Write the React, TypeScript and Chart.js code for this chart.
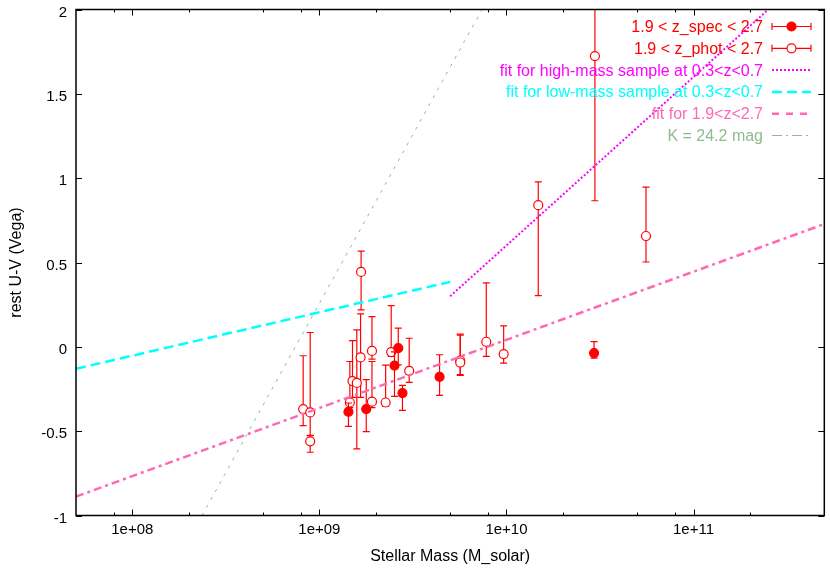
import React, { useEffect, useRef } from "react";
import { Chart, registerables } from "chart.js";

Chart.register(...registerables);

// ---------- data ----------
const specMass = [1.43e9, 1.78e9, 2.52e9, 2.64e9, 2.78e9, 4.39e9, 2.94e10];
const specUV = [-0.385, -0.369, -0.111, -0.008, -0.274, -0.178, -0.037];
const specUVHigh = [-0.333, -0.195, -0.03, 0.111, -0.229, -0.047, 0.031];
const specUVLow = [-0.472, -0.503, -0.294, -0.107, -0.377, -0.288, -0.067];

const photMass = [8.19e8, 8.93e8, 8.93e8, 1.455e9, 1.503e9, 1.585e9, 1.671e9, 1.66e9, 1.91e9, 1.91e9, 2.26e9, 2.42e9, 3.02e9, 5.66e9, 5.66e9, 7.8e9, 9.66e9, 1.479e10, 2.97e10, 5.57e10];
const photUV = [-0.369, -0.389, -0.56, -0.33, -0.203, -0.214, 0.444, -0.063, -0.024, -0.325, -0.33, -0.031, -0.142, -0.081, -0.093, 0.03, -0.043, 0.84, 1.724, 0.657];
const photUVHigh = [-0.053, 0.085, -0.527, -0.087, 0.037, 0.1, 0.568, 0.195, 0.179, -0.087, -0.108, 0.244, 0.051, 0.075, 0.07, 0.379, 0.124, 0.978, 2.3, 0.947];
const photUVLow = [-0.467, -0.525, -0.625, -0.36, -0.3, -0.605, 0.219, -0.3, -0.073, -0.361, -0.353, -0.057, -0.211, -0.17, -0.165, -0.057, -0.096, 0.304, 0.866, 0.503];

const highMassFitX = [5e9, 2.51e11];
const highMassFitY = [0.3, 2.0];
const lowMassFitX = [5e7, 5e9];
const lowMassFitY = [-0.13, 0.385];
const highZFitX = [5e7, 5e11];
const highZFitY = [-0.888, 0.728];
const kLimitX = [2.36e8, 7.4e9];
const kLimitY = [-1, 2];

const xMin = 5e7;
const xMax = 5e11;
const yMin = -1;
const yMax = 2;
const xTickValues = [1e8, 1e9, 1e10, 1e11];
const xTickLabels = ["1e+08", "1e+09", "1e+10", "1e+11"];
const xMinorMultiples = [2, 5, 8];
const yTickValues = [-1, -0.5, 0, 0.5, 1, 1.5, 2];
const yTickLabels = ["-1", "-0.5", "0", "0.5", "1", "1.5", "2"];

const xTitle = "Stellar Mass (M_solar)";
const yTitle = "rest U-V (Vega)";

const legendLabels = [
  "1.9 < z_spec < 2.7",
  "1.9 < z_phot < 2.7",
  "fit for high-mass sample at 0.3<z<0.7",
  "fit for low-mass sample at 0.3<z<0.7",
  "fit for 1.9<z<2.7",
  "K = 24.2 mag",
];

const FONT = '"Liberation Sans", Arial, Helvetica, sans-serif';
const RED = "#ff0000";
const MAGENTA = "#ff00ff";
const CYAN = "#00ffff";
const PINK = "#ff69b4";
const KGREEN = "#8fbc8f";

const pts = (xs: number[], ys: number[]) => xs.map((x, i) => ({ x, y: ys[i] }));

const errorBarPlugin = {
  id: "errorBars",
  beforeDatasetDraw(chart: any, args: any) {
    const ds = chart.data.datasets[args.index];
    if (!ds.errHigh) return;
    const { ctx, chartArea: a } = chart;
    const ys = chart.scales.y;
    ctx.save();
    ctx.beginPath();
    ctx.rect(a.left, a.top, a.right - a.left, a.bottom - a.top);
    ctx.clip();
    ctx.strokeStyle = ds.borderColor;
    ctx.lineWidth = 1.2;
    args.meta.data.forEach((el: any, i: number) => {
      const px = el.x;
      const yh = ys.getPixelForValue(ds.errHigh[i]);
      const yl = ys.getPixelForValue(ds.errLow[i]);
      ctx.beginPath();
      ctx.moveTo(px, yh);
      ctx.lineTo(px, yl);
      ctx.moveTo(px - 3.5, yh);
      ctx.lineTo(px + 3.5, yh);
      ctx.moveTo(px - 3.5, yl);
      ctx.lineTo(px + 3.5, yl);
      ctx.stroke();
    });
    ctx.restore();
  },
};

const framePlugin = {
  id: "frame",
  afterDraw(chart: any) {
    const { ctx, chartArea: a } = chart;
    const xs = chart.scales.x;
    const ys = chart.scales.y;
    ctx.save();
    ctx.strokeStyle = "#000";
    ctx.lineWidth = 1.5;
    ctx.strokeRect(a.left, a.top, a.right - a.left, a.bottom - a.top);

    ctx.lineWidth = 1;
    ctx.beginPath();
    const major = 6;
    const minor = 3;
    xTickValues.forEach((v) => {
      const px = Math.round(xs.getPixelForValue(v)) + 0.5;
      ctx.moveTo(px, a.bottom);
      ctx.lineTo(px, a.bottom - major);
      ctx.moveTo(px, a.top);
      ctx.lineTo(px, a.top + major);
    });
    for (let d = 7; d <= 11; d++) {
      xMinorMultiples.forEach((m) => {
        const v = m * Math.pow(10, d);
        if (v <= xMin || v >= xMax) return;
        const px = Math.round(xs.getPixelForValue(v)) + 0.5;
        ctx.moveTo(px, a.bottom);
        ctx.lineTo(px, a.bottom - minor);
        ctx.moveTo(px, a.top);
        ctx.lineTo(px, a.top + minor);
      });
    }
    yTickValues.forEach((v) => {
      const py = Math.round(ys.getPixelForValue(v)) + 0.5;
      ctx.moveTo(a.left, py);
      ctx.lineTo(a.left + major, py);
      ctx.moveTo(a.right, py);
      ctx.lineTo(a.right - major, py);
    });
    ctx.stroke();

    ctx.fillStyle = "#000";
    ctx.font = `15px ${FONT}`;
    ctx.textAlign = "center";
    ctx.textBaseline = "top";
    xTickValues.forEach((v, i) => {
      ctx.fillText(xTickLabels[i], xs.getPixelForValue(v), a.bottom + 7);
    });
    ctx.textAlign = "right";
    ctx.textBaseline = "middle";
    yTickValues.forEach((v, i) => {
      ctx.fillText(yTickLabels[i], a.left - 9, ys.getPixelForValue(v) + 3);
    });

    ctx.font = `16px ${FONT}`;
    ctx.textAlign = "center";
    ctx.textBaseline = "middle";
    ctx.fillText(xTitle, (a.left + a.right) / 2, 557);
    ctx.save();
    ctx.translate(17, (a.top + a.bottom) / 2);
    ctx.rotate(-Math.PI / 2);
    ctx.fillText(yTitle, 0, 0);
    ctx.restore();

    // legend
    ctx.font = `16px ${FONT}`;
    const textRight = 763;
    const s0 = 772;
    const s1 = 811;
    chart.data.datasets.forEach((ds: any, i: number) => {
      const ly = 26.5 + i * 21.8;
      ctx.fillStyle = ds.legendColor;
      ctx.textAlign = "right";
      ctx.textBaseline = "middle";
      ctx.fillText(ds.label, textRight, ly + 1);
      ctx.save();
      ctx.strokeStyle = ds.borderColor;
      if (ds.errHigh) {
        ctx.lineWidth = 1.2;
        ctx.beginPath();
        ctx.moveTo(s0, ly);
        ctx.lineTo(s1, ly);
        ctx.moveTo(s0, ly - 3.5);
        ctx.lineTo(s0, ly + 3.5);
        ctx.moveTo(s1, ly - 3.5);
        ctx.lineTo(s1, ly + 3.5);
        ctx.stroke();
        ctx.beginPath();
        ctx.arc((s0 + s1) / 2, ly, 4.5, 0, Math.PI * 2);
        ctx.fillStyle = ds.backgroundColor;
        ctx.fill();
        ctx.lineWidth = 1.2;
        ctx.stroke();
      } else {
        ctx.lineWidth = ds.borderWidth;
        ctx.setLineDash(ds.legendDash || ds.borderDash || []);
        ctx.beginPath();
        ctx.moveTo(s0, ly);
        ctx.lineTo(s1, ly);
        ctx.stroke();
      }
      ctx.restore();
    });
    ctx.restore();
  },
};

export default function App() {
  const ref = useRef<HTMLCanvasElement>(null);
  useEffect(() => {
    const chart = new Chart(ref.current as HTMLCanvasElement, {
      type: "scatter",
      data: {
        datasets: [
          {
            label: legendLabels[0],
            data: pts(specMass, specUV),
            errHigh: specUVHigh,
            errLow: specUVLow,
            borderColor: RED,
            backgroundColor: RED,
            legendColor: RED,
            pointRadius: 4.5,
            pointBorderWidth: 1.2,
            order: 1,
          } as any,
          {
            label: legendLabels[1],
            data: pts(photMass, photUV),
            errHigh: photUVHigh,
            errLow: photUVLow,
            borderColor: RED,
            backgroundColor: "#ffffff",
            legendColor: RED,
            pointRadius: 4.5,
            pointBorderWidth: 1.2,
            order: 1,
          } as any,
          {
            label: legendLabels[2],
            data: pts(highMassFitX, highMassFitY),
            showLine: true,
            pointRadius: 0,
            borderColor: MAGENTA,
            legendColor: MAGENTA,
            borderWidth: 2,
            borderDash: [2, 2],
            order: 0,
          } as any,
          {
            label: legendLabels[3],
            data: pts(lowMassFitX, lowMassFitY),
            showLine: true,
            pointRadius: 0,
            borderColor: CYAN,
            legendColor: CYAN,
            borderWidth: 2.5,
            borderDash: [10, 5],
            order: 0,
          } as any,
          {
            label: legendLabels[4],
            data: pts(highZFitX, highZFitY),
            showLine: true,
            pointRadius: 0,
            borderColor: PINK,
            legendColor: PINK,
            borderWidth: 2.5,
            borderDash: [8, 4, 3, 4],
            legendDash: [7, 7],
            order: 0,
          } as any,
          {
            label: legendLabels[5],
            data: pts(kLimitX, kLimitY),
            showLine: true,
            pointRadius: 0,
            borderColor: KGREEN,
            legendColor: KGREEN,
            borderWidth: 1,
            borderDash: [3, 6],
            legendDash: [10, 4, 2, 4],
            order: 0,
          } as any,
        ],
      },
      options: {
        responsive: false,
        animation: false,
        devicePixelRatio: 1,
        layout: { padding: { top: 9.5, right: 2, left: 0, bottom: 0 } },
        plugins: { legend: { display: false }, tooltip: { enabled: false } },
        scales: {
          x: {
            type: "logarithmic",
            min: xMin,
            max: xMax,
            bounds: "data",
            ticks: { display: false },
            grid: { display: false },
            border: { display: false },
            afterFit: (s: any) => {
              s.height = 56.5;
            },
          },
          y: {
            type: "linear",
            min: yMin,
            max: yMax,
            ticks: { display: false },
            grid: { display: false },
            border: { display: false },
            afterFit: (s: any) => {
              s.width = 76;
            },
          },
        },
      },
      plugins: [errorBarPlugin, framePlugin],
    } as any);
    return () => chart.destroy();
  }, []);
  return (
    <div style={{ position: "fixed", left: 0, top: 0, width: 830, height: 572, background: "#fff" }}>
      <canvas ref={ref} width={830} height={572} style={{ display: "block", width: 830, height: 572 }} />
    </div>
  );
}
